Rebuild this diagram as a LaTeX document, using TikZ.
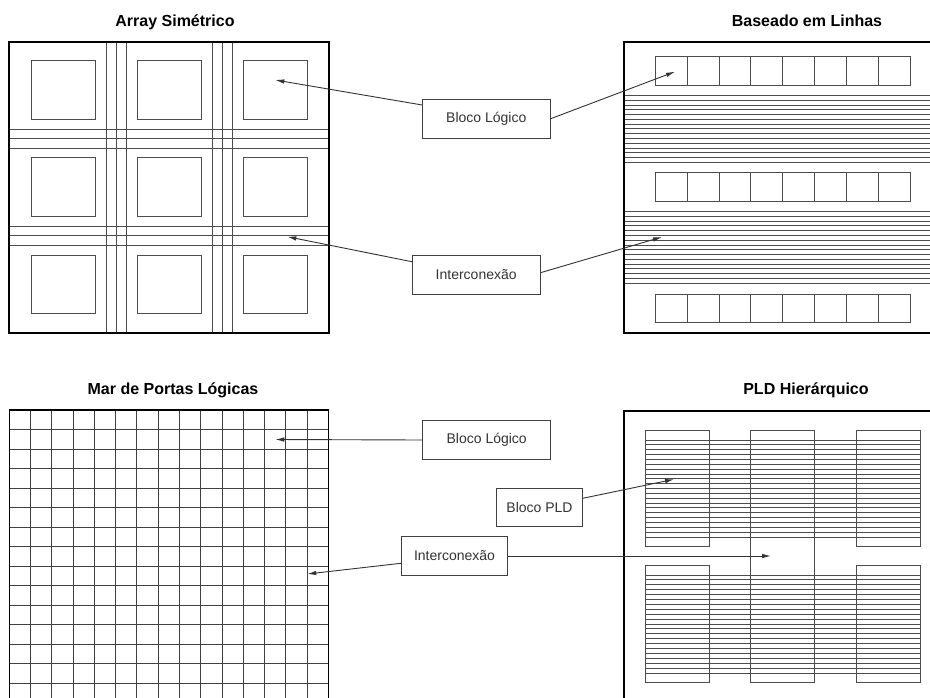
\documentclass[tikz,border=0pt]{standalone}
\usepackage{fontspec}
\setmainfont{Liberation Sans}
\usetikzlibrary{arrows.meta}

\tikzset{
  frame/.style={draw=black, line width=2.2pt},
  thin/.style={draw=black!70, line width=0.9pt},
  gridline/.style={draw=black!75, line width=1pt},
  label/.style={draw=black!75, line width=0.9pt, fill=white, inner sep=0pt,
    font=\fontsize{14}{16}\selectfont, text=black!80},
  heading/.style={anchor=base, font=\fontsize{16}{19}\selectfont\bfseries},
  pointer/.style={draw=black!80, line width=0.9pt, -{Latex[length=9pt,width=4.5pt]}}
}

\begin{document}
\begin{tikzpicture}[x=1pt,y=-1pt]
\useasboundingbox (0,0) rectangle (930,697);
\clip (0,0) rectangle (930,697);
\fill[white] (0,0) rectangle (930,697);

% ---------- Array Simetrico ----------
\foreach \x in {106,116.5,126.7,212,222.3,232.7}
  \draw[thin] (\x,41.7) -- (\x,332.7);
\foreach \y in {129,138.7,148.3,226,235.7,245.7}
  \draw[thin] (9.3,\y) -- (328.7,\y);
\foreach \i in {0,1,2}
  \foreach \j in {0,1,2}
    \draw[thin] ({31.3+106*\i},{60.7+97.2*\j}) rectangle ++(64,58.3);
\draw[frame] (9.3,41.7) rectangle (328.7,332.7);
\node[heading] (tA) at (175,26.7) {Array Simétrico};

% ---------- Baseado em Linhas ----------
\foreach \y in {56.7,172.3,294}
  \foreach \k in {0,...,7}
    \draw[thin] ({655.3+31.84*\k},\y) rectangle ++(31.84,28.8);
\foreach \k in {0,...,14}
  \draw[thin] (624,{95.5+4.77*\k}) -- (943,{95.5+4.77*\k});
\foreach \k in {0,...,15}
  \draw[thin] (624,{211.5+4.78*\k}) -- (943,{211.5+4.78*\k});
\draw[frame] (624,41.7) rectangle (943,332.7);
\node[heading] (tB) at (807,26.7) {Baseado em Linhas};

% ---------- Mar de Portas Logicas ----------
\foreach \k in {0,...,15}
  \draw[gridline] ({9.3+21.27*\k},410) -- ({9.3+21.27*\k},702.5);
\foreach \k in {0,...,15}
  \draw[gridline] (9.3,{410+19.5*\k}) -- (328.4,{410+19.5*\k});
\draw[black, line width=1.6pt] (9.3,410) rectangle (328.4,702.5);
\node[heading] (tC) at (173,394) {Mar de Portas Lógicas};

% ---------- PLD Hierarquico ----------
\foreach \k in {0,...,20}
  \draw[thin] (645.7,{440+4.85*\k}) -- (920.7,{440+4.85*\k});
\foreach \k in {0,...,20}
  \draw[thin] (645.7,{575+4.9*\k}) -- (920.7,{575+4.9*\k});
\foreach \x in {645.7,856.7} {
  \draw[thin] (\x,430) rectangle ++(64,116);
  \draw[thin] (\x,565.3) rectangle ++(64,117);
}
\draw[thin] (750.7,430) rectangle (814.3,682.3);
\draw[frame] (624,410.7) rectangle (943,703);
\node[heading] (tD) at (806,394) {PLD Hierárquico};

% ---------- labels ----------
\node[label, minimum width=127.3pt, minimum height=39pt] (b1) at (486.3,118.8) {Bloco Lógico};
\node[label, minimum width=127.7pt, minimum height=39pt] (i1) at (476.2,274.5) {Interconexão};
\node[label, minimum width=128pt, minimum height=38.6pt] (b2) at (486.7,440) {Bloco Lógico};
\node[label, minimum width=85.6pt, minimum height=38.4pt] (p1) at (539.5,507.5) {Bloco PLD};
\node[label, minimum width=106.4pt, minimum height=38.6pt] (i2) at (454.5,556) {Interconexão};

% arrow targets
\coordinate (tb1l) at (275.3,80);
\coordinate (tb1r) at (675,71.7);
\coordinate (ti1l) at (287.3,236.7);
\coordinate (ti1r) at (662,237);
\coordinate (tb2l) at (275.3,439.5);
\coordinate (ti2l) at (307.3,574);
\coordinate (ti2r) at (771,556);
\coordinate (tp1) at (674,479.3);

% ---------- connectors ----------
\draw[pointer] ([yshift=13.8pt]b1.west) -- (tb1l);
\draw[pointer] (b1.east) -- (tb1r);
\draw[pointer] ([yshift=12.8pt]i1.west) -- (ti1l);
\draw[pointer] ([yshift=1.8pt]i1.east) -- (ti1r);
\draw[pointer] (b2.west) -- (tb2l);
\draw[pointer] ([yshift=-7.3pt]i2.west) -- (ti2l);
\draw[pointer] (i2.east) -- (ti2r);
\draw[pointer] ([yshift=9.2pt]p1.east) -- (tp1);
\end{tikzpicture}
\end{document}
